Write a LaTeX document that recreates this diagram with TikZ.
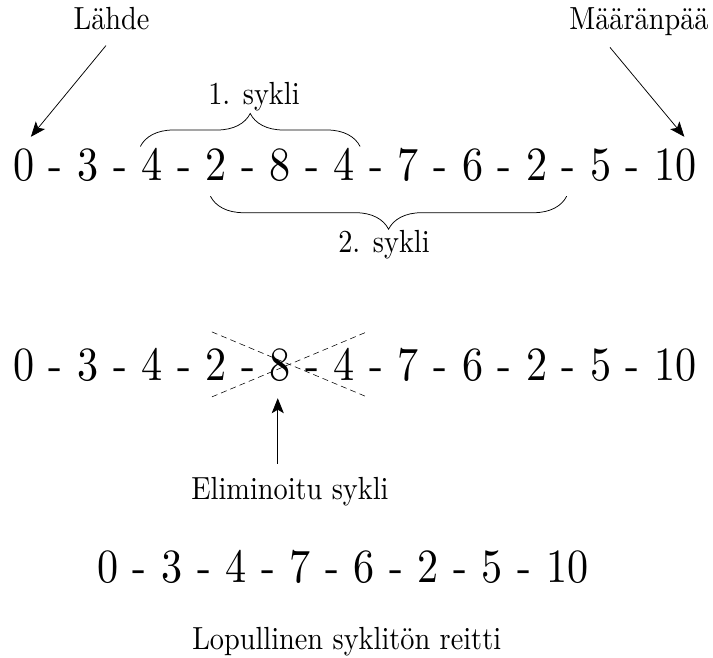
\documentclass[tikz,border=0pt]{standalone}
\usepackage{graphicx}
\usetikzlibrary{positioning,decorations.pathreplacing,calc,arrows.meta}
\newcommand{\bigtok}[1]{\scalebox{4.22}[4.77]{#1}}
\newcommand{\smalltxt}[1]{\scalebox{2.83}[3.2]{#1}}
\begin{document}
\begin{tikzpicture}[x=1pt,y=1pt,
  tok/.style={font=\fontsize{10}{12}\selectfont, inner sep=0pt, text height=31pt, text depth=0pt},
  lbl/.style={font=\fontsize{10}{12}\selectfont, inner sep=0pt, anchor=base},
  arr/.style={-{Stealth[length=15pt,width=12pt,inset=3.5pt]}, line width=0.75pt},
  cbrace/.style={decorate, decoration={brace, amplitude=33pt}, line width=0.75pt},
  crossline/.style={dash pattern=on 6pt off 4pt, line width=0.55pt}]
\useasboundingbox (0,0) rectangle (713,657);

% row 1
\node[tok, anchor=base west] (a1) at (13.15,476) {\bigtok{0}};
\foreach \t [count=\i from 2, remember=\i as \j (initially 1)] in {-,3,-,4,-,2,-,8,-,4,-,7,-,6,-,2,-,5,-,10}
  \node[tok, right=14.07pt of a\j] (a\i) {\bigtok{\t}};

% row 2
\node[tok, anchor=base west] (b1) at (13.15,276) {\bigtok{0}};
\foreach \t [count=\i from 2, remember=\i as \j (initially 1)] in {-,3,-,4,-,2,-,8,-,4,-,7,-,6,-,2,-,5,-,10}
  \node[tok, right=14.07pt of b\j] (b\i) {\bigtok{\t}};

% row 3
\node[tok, anchor=base west] (c1) at (97.15,74.5) {\bigtok{0}};
\foreach \t [count=\i from 2, remember=\i as \j (initially 1)] in {-,3,-,4,-,7,-,6,-,2,-,5,-,10}
  \node[tok, right=14.07pt of c\j] (c\i) {\bigtok{\t}};

% labels
\node[lbl] (src) at (111.5,627) {\smalltxt{Lähde}};
\node[lbl] (dst) at (639,627) {\smalltxt{Määränpää}};
\node[lbl] (cyc1) at (254,552) {\smalltxt{1. sykli}};
\node[lbl] (cyc2) at (384,404) {\smalltxt{2. sykli}};
\node[lbl] (elim) at (290,157) {\smalltxt{Eliminoitu sykli}};
\node[lbl] (final) at (346.7,8) {\smalltxt{Lopullinen syklitön reitti}};

% arrows
\draw[arr] ($(src.south)+(-5.5,-15)$) -- ($(a1.north)+(7,13)$);
\draw[arr] ($(dst.south)+(-29,-11)$) -- ($(a21.north)+(9,13)$);
\draw[arr] ($(elim.north -| b9.south)+(-2.5,14)$) -- ($(b9.south)+(-2.5,-17)$);

% braces
\draw[cbrace] ($(a5.north west)+(-1,3.3)$) -- ($(a11.north east)+(5,3.3)$);
\draw[cbrace, decoration={mirror}] ($(a7.south west)+(5,-15)$) -- ($(a18.center |- a7.south)+(-2,-15)$);

% cross
\draw[crossline] ($(b9.center)+(-68.4,33.6)$) -- ($(b9.center)+(86.6,-31.4)$);
\draw[crossline] ($(b9.center)+(-68.4,-31.4)$) -- ($(b9.center)+(86.6,33.6)$);
\end{tikzpicture}
\end{document}
